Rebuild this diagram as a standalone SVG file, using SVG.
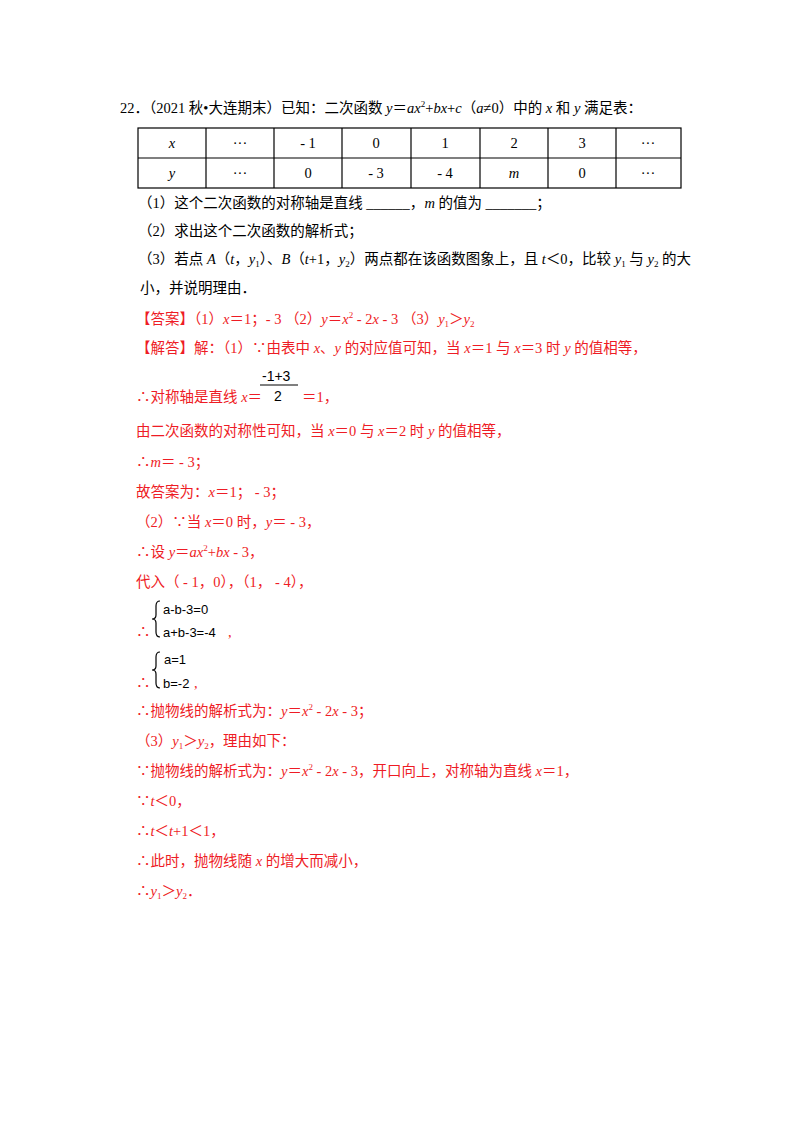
<svg xmlns="http://www.w3.org/2000/svg" width="800" height="1132" viewBox="0 0 800 1132">
<style>
text{font-family:"Liberation Serif","Noto Sans CJK SC",serif;font-size:14.5px;fill:#000}
.r{fill:#ee1c25}
.i{font-style:italic}
.s{font-size:9px}
.m{font-family:"Liberation Sans","Noto Sans CJK SC",sans-serif;font-size:14px;fill:#000}
.c{text-anchor:middle}
.t line,.t rect{stroke:#000;stroke-width:1.2;fill:none}
</style>
<rect width="800" height="1132" fill="#fff"/>
<text x="120" y="113">22．（2021 秋•大连期末）已知：二次函数 <tspan class="i">y</tspan>＝<tspan class="i">ax</tspan><tspan class="s" dy="-6">2</tspan><tspan dy="6">+</tspan><tspan class="i">bx</tspan>+<tspan class="i">c</tspan>（<tspan class="i">a</tspan>≠0）中的 <tspan class="i">x</tspan> 和 <tspan class="i">y</tspan> 满足表：</text>
<g id="table" class="t">
<rect x="138" y="128" width="543" height="60"/>
<line x1="138" y1="158" x2="681" y2="158"/>
<line x1="206" y1="128" x2="206" y2="188"/><line x1="274" y1="128" x2="274" y2="188"/>
<line x1="342" y1="128" x2="342" y2="188"/><line x1="411" y1="128" x2="411" y2="188"/>
<line x1="480" y1="128" x2="480" y2="188"/><line x1="548" y1="128" x2="548" y2="188"/>
<line x1="616" y1="128" x2="616" y2="188"/>
<g class="c">
<text x="172" y="148" class="i c">x</text><text x="240" y="148" class="c">···</text><text x="308" y="148" class="c">- 1</text><text x="376" y="148" class="c">0</text><text x="445" y="148" class="c">1</text><text x="514" y="148" class="c">2</text><text x="582" y="148" class="c">3</text><text x="648" y="148" class="c">···</text>
<text x="172" y="178" class="i c">y</text><text x="240" y="178" class="c">···</text><text x="308" y="178" class="c">0</text><text x="376" y="178" class="c">- 3</text><text x="445" y="178" class="c">- 4</text><text x="514" y="178" class="i c">m</text><text x="582" y="178" class="c">0</text><text x="648" y="178" class="c">···</text>
</g>
</g>
<text x="138" y="208">（1）这个二次函数的对称轴是直线 ______，<tspan class="i">m</tspan> 的值为 _______；</text>
<text x="138" y="236">（2）求出这个二次函数的解析式；</text>
<text x="138" y="264">（3）若点 <tspan class="i">A</tspan>（<tspan class="i">t</tspan>，<tspan class="i">y</tspan><tspan class="s" dy="3">1</tspan><tspan dy="-3">）、</tspan><tspan class="i">B</tspan>（<tspan class="i">t</tspan>+1，<tspan class="i">y</tspan><tspan class="s" dy="3">2</tspan><tspan dy="-3">）两点都在该函数图象上，且 </tspan><tspan class="i">t</tspan>＜0，比较 <tspan class="i">y</tspan><tspan class="s" dy="3">1</tspan><tspan dy="-3"> 与 </tspan><tspan class="i">y</tspan><tspan class="s" dy="3">2</tspan><tspan dy="-3"> 的大</tspan></text>
<text x="140" y="293">小，并说明理由．</text>
<g class="r">
<text class="r" x="136" y="324">【答案】（1）<tspan class="i">x</tspan>＝1；- 3 （2）<tspan class="i">y</tspan>＝<tspan class="i">x</tspan><tspan class="s" dy="-6">2</tspan><tspan dy="6"> - 2</tspan><tspan class="i">x</tspan> - 3 （3）<tspan class="i">y</tspan><tspan class="s" dy="3">1</tspan><tspan dy="-3">＞</tspan><tspan class="i">y</tspan><tspan class="s" dy="3">2</tspan></text>
<text class="r" x="136" y="353">【解答】解：（1）∵由表中 <tspan class="i">x</tspan>、<tspan class="i">y</tspan> 的对应值可知，当 <tspan class="i">x</tspan>＝1 与 <tspan class="i">x</tspan>＝3 时 <tspan class="i">y</tspan> 的值相等，</text>
<text class="m" x="262" y="381">-1+3</text>
<line x1="260" y1="385" x2="298" y2="385" stroke="#000" stroke-width="1"/>
<text class="m" x="274" y="401">2</text>
<text class="r" x="136" y="402">∴对称轴是直线 <tspan class="i">x</tspan>＝</text>
<text class="r" x="302" y="402">＝1，</text>
<text class="r" x="136" y="436">由二次函数的对称性可知，当 <tspan class="i">x</tspan>＝0 与 <tspan class="i">x</tspan>＝2 时 <tspan class="i">y</tspan> 的值相等，</text>
<text class="r" x="136" y="467">∴<tspan class="i">m</tspan>＝ - 3；</text>
<text class="r" x="136" y="497">故答案为：<tspan class="i">x</tspan>＝1； - 3；</text>
<text class="r" x="136" y="527">（2）∵当 <tspan class="i">x</tspan>＝0 时，<tspan class="i">y</tspan>＝ - 3，</text>
<text class="r" x="136" y="557">∴设 <tspan class="i">y</tspan>＝<tspan class="i">ax</tspan><tspan class="s" dy="-6">2</tspan><tspan dy="6">+</tspan><tspan class="i">bx</tspan> - 3，</text>
<text class="r" x="136" y="587">代入（ - 1，0），（1， - 4），</text>
<text class="r" x="136" y="637">∴</text>
<path d="M160 601 q-4 0 -4 5 v9 q0 4 -4 4 q4 0 4 4 v9 q0 5 4 5" fill="none" stroke="#000" stroke-width="1.2"/>
<text class="m" x="163" y="614" style="font-size:13px">a-b-3=0</text>
<text class="m" x="163" y="637" style="font-size:13px">a+b-3=-4</text>
<text class="r" x="228" y="637">,</text>
<text class="r" x="136" y="688">∴</text>
<path d="M160 652 q-4 0 -4 5 v9 q0 4 -4 4 q4 0 4 4 v9 q0 5 4 5" fill="none" stroke="#000" stroke-width="1.2"/>
<text class="m" x="164" y="664" style="font-size:13px">a=1</text>
<text class="m" x="163" y="688" style="font-size:13px">b=-2</text>
<text class="r" x="194" y="688">,</text>
<text class="r" x="136" y="716">∴抛物线的解析式为：<tspan class="i">y</tspan>＝<tspan class="i">x</tspan><tspan class="s" dy="-6">2</tspan><tspan dy="6"> - 2</tspan><tspan class="i">x</tspan> - 3；</text>
<text class="r" x="136" y="746">（3）<tspan class="i">y</tspan><tspan class="s" dy="3">1</tspan><tspan dy="-3">＞</tspan><tspan class="i">y</tspan><tspan class="s" dy="3">2</tspan><tspan dy="-3">，理由如下：</tspan></text>
<text class="r" x="136" y="776">∵抛物线的解析式为：<tspan class="i">y</tspan>＝<tspan class="i">x</tspan><tspan class="s" dy="-6">2</tspan><tspan dy="6"> - 2</tspan><tspan class="i">x</tspan> - 3，开口向上，对称轴为直线 <tspan class="i">x</tspan>＝1，</text>
<text class="r" x="136" y="806">∵<tspan class="i">t</tspan>＜0，</text>
<text class="r" x="136" y="836">∴<tspan class="i">t</tspan>＜<tspan class="i">t</tspan>+1＜1，</text>
<text class="r" x="136" y="866">∴此时，抛物线随 <tspan class="i">x</tspan> 的增大而减小，</text>
<text class="r" x="136" y="896">∴<tspan class="i">y</tspan><tspan class="s" dy="3">1</tspan><tspan dy="-3">＞</tspan><tspan class="i">y</tspan><tspan class="s" dy="3">2</tspan><tspan dy="-3">．</tspan></text>
</g>
</svg>
